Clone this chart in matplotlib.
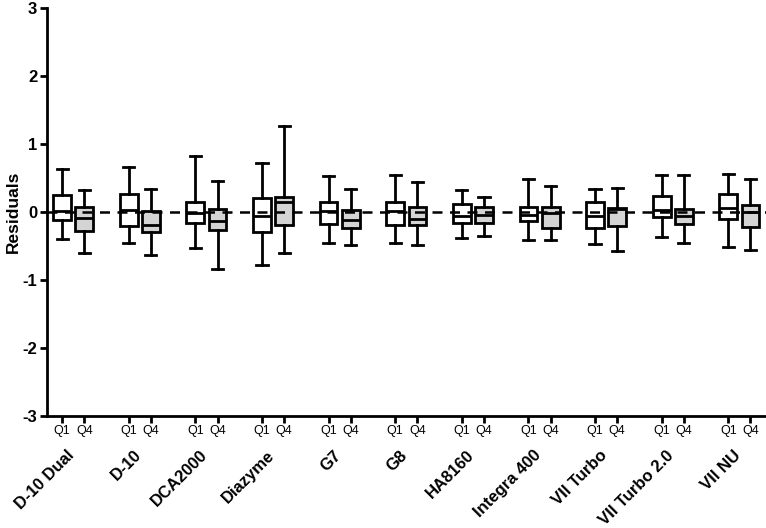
import matplotlib.pyplot as plt

plt.rcParams['font.family'] = ['Liberation Sans', 'DejaVu Sans']

groups = ['D-10 Dual', 'D-10', 'DCA2000', 'Diazyme', 'G7', 'G8', 'HA8160',
          'Integra 400', 'VII Turbo', 'VII Turbo 2.0', 'VII NU']
quarters = ['Q1', 'Q4']

# whisker low, box low (q1), median, box high (q3), whisker high  -- Q1 then Q4 per group
q1_lo = [-0.40, -0.46, -0.53, -0.78, -0.46, -0.46, -0.39, -0.42, -0.47, -0.37, -0.52]
q1_q1 = [-0.12, -0.21, -0.16, -0.30, -0.18, -0.19, -0.16, -0.13, -0.24, -0.07, -0.11]
q1_med = [0.01, 0.03, -0.02, -0.06, 0.015, 0.01, -0.06, -0.04, -0.06, 0.03, 0.06]
q1_q3 = [0.25, 0.26, 0.15, 0.20, 0.15, 0.15, 0.11, 0.07, 0.15, 0.24, 0.27]
q1_hi = [0.64, 0.66, 0.83, 0.72, 0.53, 0.55, 0.32, 0.48, 0.34, 0.54, 0.56]

q4_lo = [-0.61, -0.64, -0.84, -0.61, -0.49, -0.49, -0.36, -0.41, -0.57, -0.46, -0.56]
q4_q1 = [-0.28, -0.29, -0.26, -0.19, -0.23, -0.19, -0.16, -0.23, -0.20, -0.17, -0.22]
q4_med = [-0.09, -0.19, -0.14, 0.14, -0.12, -0.11, -0.04, -0.02, 0.04, -0.06, 0.00]
q4_q3 = [0.08, 0.02, 0.05, 0.22, 0.03, 0.07, 0.08, 0.07, 0.06, 0.04, 0.10]
q4_hi = [0.33, 0.34, 0.45, 1.26, 0.34, 0.44, 0.22, 0.38, 0.36, 0.54, 0.48]

fig = plt.figure(figsize=(7.66, 5.28), dpi=100)
ax = fig.add_axes([0.0614, 0.2127, 0.9386, 0.7717])

lw = 2.0
props = dict(linewidth=lw, color='black')

stats_q1, stats_q4, pos_q1, pos_q4 = [], [], [], []
for i in range(len(groups)):
    stats_q1.append(dict(whislo=q1_lo[i], q1=q1_q1[i], med=q1_med[i], q3=q1_q3[i], whishi=q1_hi[i]))
    stats_q4.append(dict(whislo=q4_lo[i], q1=q4_q1[i], med=q4_med[i], q3=q4_q3[i], whishi=q4_hi[i]))
    pos_q1.append(3 * i + 1)
    pos_q4.append(3 * i + 2)

for stats, pos, fc in ((stats_q1, pos_q1, 'white'), (stats_q4, pos_q4, '#d4d4d4')):
    ax.bxp(stats, positions=pos, widths=0.8, showfliers=False, patch_artist=True,
           boxprops=dict(linewidth=lw, edgecolor='black', facecolor=fc),
           medianprops=props, whiskerprops=props, capprops=props,
           capwidths=0.5, zorder=3)

ax.axhline(0, color='black', linestyle=(0, (4, 3)), linewidth=1.8, zorder=4)

ax.set_xlim(0.32, 32.7)
ax.set_ylim(-3, 3)
ax.set_yticks(range(-3, 4))
ax.set_yticklabels([str(v) for v in range(-3, 4)], fontsize=12, fontweight='bold')

ticks = []
labels = []
for a, b in zip(pos_q1, pos_q4):
    ticks += [a, b]
    labels += quarters
ax.set_xticks(ticks)
ax.set_xticklabels(labels, fontsize=9)

for sp in ('top', 'right'):
    ax.spines[sp].set_visible(False)
for sp in ('left', 'bottom'):
    ax.spines[sp].set_linewidth(2)
ax.tick_params(axis='both', width=2, length=5, direction='out', pad=2)

ax.set_ylabel('Residuals', fontsize=12.5, fontweight='bold', labelpad=1)

# group names, rotated, under each Q1/Q4 pair
for i, g in enumerate(groups):
    xc = (pos_q1[i] + pos_q4[i]) / 2
    ax.annotate(g, xy=(xc, 0), xycoords=('data', 'axes fraction'),
                xytext=(3, -23), textcoords='offset points',
                rotation=45, ha='right', va='top',
                fontsize=12, fontweight='bold', annotation_clip=False)

fig.savefig('out.png', dpi=100)
